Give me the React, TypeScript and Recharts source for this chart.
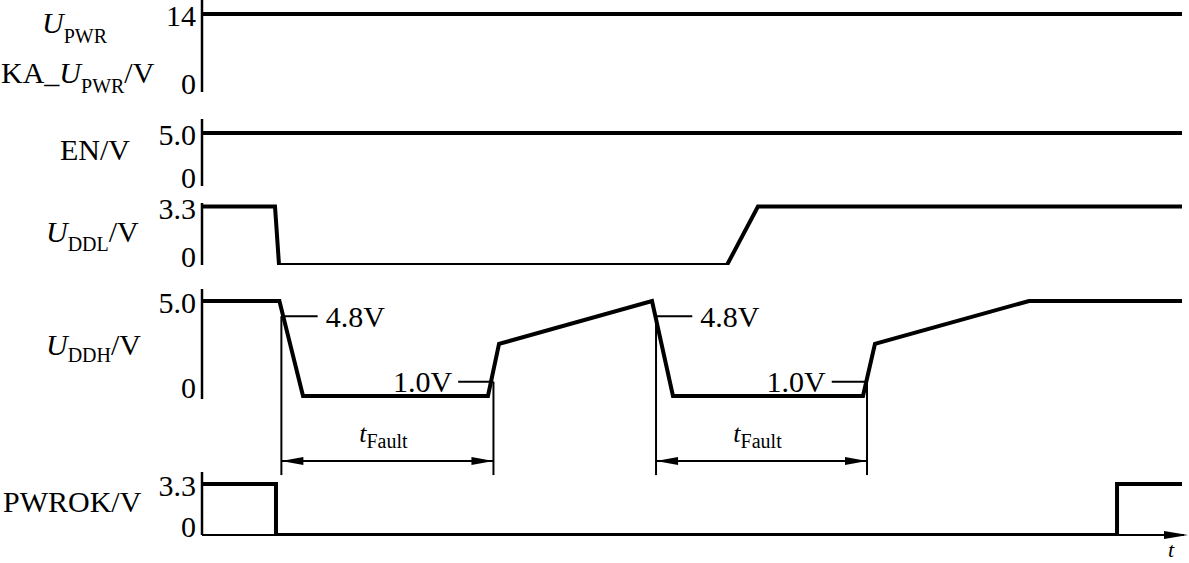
import React from 'react';
import { LineChart, Line, XAxis, YAxis, ReferenceLine } from 'recharts';

// ---------- data (time in arbitrary units 0..100, voltage in V) ----------
const T_UPWR = [0, 100];
const V_UPWR = [14, 14];

const T_EN = [0, 100];
const V_EN = [5, 5];

const T_UDDL = [0, 7.45, 7.86, 53.57, 56.73, 100];
const V_UDDL = [3.3, 3.3, 0, 0, 3.3, 3.3];

const T_UDDH = [0, 7.9, 10.31, 29.18, 30.31, 45.92, 48.06, 67.45, 68.67, 84.39, 100];
const V_UDDH = [5, 5, 0, 0, 2.74, 5, 0, 0, 2.74, 5, 5];

const T_PWROK = [0, 7.55, 7.55, 93.37, 93.37, 100];
const V_PWROK = [3.3, 3.3, 0, 0, 3.3, 3.3];

const TICKS_UPWR = [0, 14];
const TICKS_EN = [0, 5];
const TICKS_UDDL = [0, 3.3];
const TICKS_UDDH = [0, 5];
const TICKS_PWROK = [0, 3.3];
const TICK_LABELS: Record<string, string> = { '0': '0', '14': '14', '5': '5.0', '3.3': '3.3' };

// fault annotation (times of the 4.8 V and 1.0 V crossings)
const FAULT_START = [8.1, 46.33];
const FAULT_END = [29.74, 67.86];
const LEVEL_HI = 4.2; // drawn level of the "4.8V" marker
const LEVEL_LO = 0.75; // drawn level of the "1.0V" marker
const HI_TEXT = '4.8V';
const LO_TEXT = '1.0V';

// ---------- styles ----------
const W = 1189;
const FONT = "'Liberation Serif', 'Times New Roman', serif";
const FS = 30;
const SUB = 20;

const rows = (ts: number[], vs: number[]) => ts.map((t, i) => ({ t, v: vs[i] }));

const renderTick = (props: any) => {
  const v = props.payload.value;
  const dy = v === 0 ? 2 : 12;
  return (
    <text x={196} y={props.y + dy} textAnchor="end" fontSize={FS} fontFamily={FONT} fill="#000">
      {TICK_LABELS[String(v)]}
    </text>
  );
};

type PanelProps = {
  plotTop: number;
  plotH: number;
  mTop: number;
  mBottom: number;
  domain: [number, number];
  data: { t: number; v: number }[];
  ticks: number[];
  axisLine: boolean;
  label: (chartTop: number) => React.ReactNode;
  extra?: React.ReactNode[];
};

function Panel({ plotTop, plotH, mTop, mBottom, domain, data, ticks, axisLine, label, extra }: PanelProps) {
  const chartTop = plotTop - mTop;
  return (
    <div style={{ position: 'absolute', left: 0, top: chartTop }}>
      <LineChart
        width={W}
        height={plotH + mTop + mBottom}
        data={data}
        margin={{ top: mTop, right: 7, bottom: mBottom, left: 0 }}
      >
        <XAxis dataKey="t" type="number" domain={[0, 100]} hide allowDataOverflow />
        <YAxis
          type="number"
          domain={domain}
          allowDataOverflow
          width={202}
          ticks={ticks}
          interval={0}
          axisLine={axisLine ? { stroke: '#000', strokeWidth: 2.5 } : false}
          tickLine={false}
          tick={renderTick}
          label={{ content: () => <g>{label(chartTop)}</g> }}
        />
        <Line
          dataKey="v"
          type="linear"
          stroke="#000"
          strokeWidth={4}
          dot={false}
          activeDot={false}
          isAnimationActive={false}
          strokeLinejoin="miter"
        />
        {extra}
      </LineChart>
    </div>
  );
}

const txt = { fontSize: FS, fontFamily: FONT, fill: '#000' } as const;

const hiMarker = (p: any) => (
  <g>
    <line x1={p.x1} y1={p.y1} x2={p.x2} y2={p.y2} stroke="#000" strokeWidth={2} />
    <text x={p.x2 + 8} y={p.y1} dy="0.35em" {...txt}>{HI_TEXT}</text>
  </g>
);
const loMarker = (p: any) => (
  <g>
    <line x1={p.x1} y1={p.y1} x2={p.x2} y2={p.y2} stroke="#000" strokeWidth={2} />
    <text x={p.x1 - 6} y={p.y1} dy="0.35em" textAnchor="end" {...txt}>{LO_TEXT}</text>
  </g>
);
const faultArrow = (p: any) => {
  const { x1, y1, x2 } = p;
  const L = 22, H = 4;
  const mid = (x1 + x2) / 2;
  return (
    <g>
      <line x1={x1} y1={y1} x2={x2} y2={y1} stroke="#000" strokeWidth={1.8} />
      <polygon points={`${x1},${y1} ${x1 + L},${y1 - H} ${x1 + L},${y1 + H}`} fill="#000" />
      <polygon points={`${x2},${y1} ${x2 - L},${y1 - H} ${x2 - L},${y1 + H}`} fill="#000" />
      <text x={mid - 4} y={y1 - 19} textAnchor="middle" fontFamily={FONT} fill="#000">
        <tspan fontStyle="italic" fontSize={26}>t</tspan>
        <tspan fontSize={SUB} dy={6}>Fault</tspan>
      </text>
    </g>
  );
};
const timeAxis = (p: any) => {
  const { x1, y1, x2 } = p;
  const tip = x2 + 6;
  return (
    <g>
      <line x1={x1} y1={y1} x2={tip - 4} y2={y1} stroke="#000" strokeWidth={2} />
      <polygon points={`${tip},${y1} ${tip - 24},${y1 - 4} ${tip - 24},${y1 + 4}`} fill="#000" />
      <text x={x2 - 14} y={y1 + 22} fontFamily={FONT} fontStyle="italic" fontSize={22} fill="#000">t</text>
    </g>
  );
};

const EXT_BOTTOM = -4.16;
const ARROW_LEVEL = -3.42;
const HI_LEN = 3.7;
const LO_LEN = 3.6;

const uddhExtras: React.ReactNode[] = [
  <ReferenceLine key="ax" segment={[{ x: 0, y: -0.16 }, { x: 0, y: 5.63 }]} stroke="#000" strokeWidth={2.5} ifOverflow="visible" />,
  ...FAULT_START.flatMap((s, i) => {
    const e = FAULT_END[i];
    return [
      <ReferenceLine key={`es${i}`} segment={[{ x: s, y: LEVEL_HI }, { x: s, y: EXT_BOTTOM }]} stroke="#000" strokeWidth={2} ifOverflow="visible" />,
      <ReferenceLine key={`ee${i}`} segment={[{ x: e, y: LEVEL_LO }, { x: e, y: EXT_BOTTOM }]} stroke="#000" strokeWidth={2} ifOverflow="visible" />,
      <ReferenceLine key={`mh${i}`} segment={[{ x: s, y: LEVEL_HI }, { x: s + HI_LEN, y: LEVEL_HI }]} ifOverflow="visible" shape={hiMarker} />,
      <ReferenceLine key={`ml${i}`} segment={[{ x: e - LO_LEN, y: LEVEL_LO }, { x: e, y: LEVEL_LO }]} ifOverflow="visible" shape={loMarker} />,
      <ReferenceLine key={`ar${i}`} segment={[{ x: s, y: ARROW_LEVEL }, { x: e, y: ARROW_LEVEL }]} ifOverflow="visible" shape={faultArrow} />,
    ];
  }),
];

const pwrokExtras: React.ReactNode[] = [
  <ReferenceLine key="tax" segment={[{ x: 0, y: 0 }, { x: 100, y: 0 }]} ifOverflow="visible" shape={timeAxis} />,
];

export default function App() {
  return (
    <div style={{ position: 'absolute', left: 0, top: 0, width: W, height: 563, background: '#fff', overflow: 'hidden' }}>
      <Panel
        plotTop={0} plotH={92} mTop={12} mBottom={12}
        domain={[0, 16.5]} data={rows(T_UPWR, V_UPWR)} ticks={TICKS_UPWR} axisLine
        label={(ct) => (
          <>
            <text x={42} y={33 - ct} {...txt}>
              <tspan fontStyle="italic">U</tspan>
              <tspan fontSize={SUB} dy={10}>PWR</tspan>
            </text>
            <text x={1} y={83 - ct} {...txt}>
              <tspan>KA_</tspan>
              <tspan fontStyle="italic">U</tspan>
              <tspan fontSize={SUB} dy={10}>PWR</tspan>
              <tspan dy={-10}>/V</tspan>
            </text>
          </>
        )}
      />
      <Panel
        plotTop={119} plotH={67} mTop={12} mBottom={12}
        domain={[0, 6.32]} data={rows(T_EN, V_EN)} ticks={TICKS_EN} axisLine
        label={(ct) => <text x={60} y={160 - ct} {...txt}>EN/V</text>}
      />
      <Panel
        plotTop={203} plotH={62} mTop={12} mBottom={12}
        domain={[0, 3.5]} data={rows(T_UDDL, V_UDDL)} ticks={TICKS_UDDL} axisLine
        label={(ct) => (
          <text x={46} y={242 - ct} {...txt}>
            <tspan fontStyle="italic">U</tspan>
            <tspan fontSize={SUB} dy={9}>DDL</tspan>
            <tspan dy={-9}>/V</tspan>
          </text>
        )}
      />
      <Panel
        plotTop={289} plotH={191} mTop={12} mBottom={12}
        domain={[-4.42, 5.63]} data={rows(T_UDDH, V_UDDH)} ticks={TICKS_UDDH} axisLine={false}
        label={(ct) => (
          <text x={46} y={355 - ct} {...txt}>
            <tspan fontStyle="italic">U</tspan>
            <tspan fontSize={SUB} dy={7}>DDH</tspan>
            <tspan dy={-7}>/V</tspan>
          </text>
        )}
        extra={uddhExtras}
      />
      <Panel
        plotTop={472} plotH={63} mTop={12} mBottom={28}
        domain={[0, 4.08]} data={rows(T_PWROK, V_PWROK)} ticks={TICKS_PWROK} axisLine
        label={(ct) => <text x={3} y={512 - ct} {...txt}>PWROK/V</text>}
        extra={pwrokExtras}
      />
    </div>
  );
}
